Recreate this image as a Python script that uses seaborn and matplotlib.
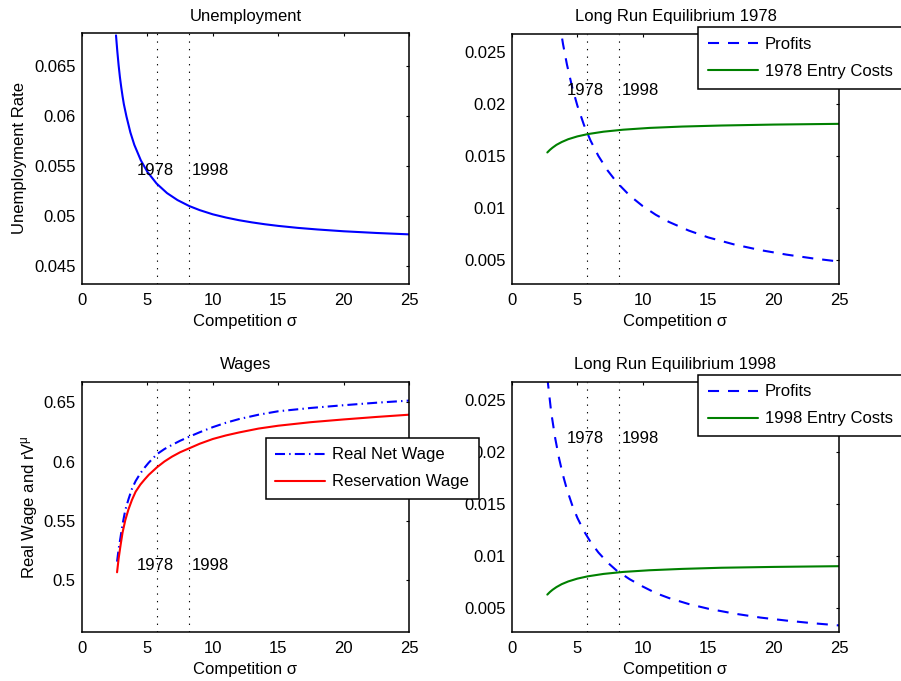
import matplotlib
matplotlib.use("Agg")
import matplotlib.pyplot as plt
from matplotlib.ticker import FuncFormatter
import pandas as pd
import seaborn as sns

# Competition levels marked for the two years
sigma_1978 = 5.7
sigma_1998 = 8.2

# Unemployment rate against competition
u_sigma = [2.6, 2.7, 2.8, 2.9, 3.0, 3.1, 3.2, 3.4, 3.7, 4.0, 4.5, 5.0, 5.7, 6.5,
           7.3, 8.2, 9.0, 10.0, 11.0, 12.0, 13.0, 14.0, 15.0, 16.5, 18.0, 20.0,
           22.5, 25.0]
u_rate = [0.0681, 0.0665, 0.0651, 0.0639, 0.0629, 0.0620, 0.0612, 0.05996, 0.05836,
          0.05712, 0.05556, 0.05441, 0.05324, 0.05228, 0.05158, 0.05098, 0.05057,
          0.05015, 0.04983, 0.04956, 0.04934, 0.04915, 0.04899, 0.04879, 0.04863,
          0.04845, 0.04828, 0.04814]

# Wages
w_sigma = [2.68, 2.8, 2.93, 3.1, 3.31, 3.55, 3.82, 4.1, 4.46, 4.8, 5.1, 5.73, 6.3,
           6.88, 7.5, 8.21, 9.0, 10.0, 11.0, 12.0, 13.5, 15.0, 17.5, 20.0, 22.5, 25.0]
real_net_wage = [0.5155, 0.5260, 0.5350, 0.5470, 0.5590, 0.5680, 0.5770, 0.5835,
                 0.5900, 0.5950, 0.5990, 0.6062, 0.6105, 0.6140, 0.6175, 0.6210,
                 0.6247, 0.6290, 0.6327, 0.6358, 0.6395, 0.6424, 0.6452, 0.6475,
                 0.6496, 0.6514]
reservation_wage = [0.5065, 0.5180, 0.5280, 0.5400, 0.5505, 0.5595, 0.5676, 0.5745,
                    0.5805, 0.5850, 0.5887, 0.5951, 0.6000, 0.6041, 0.6078, 0.6112,
                    0.6150, 0.6190, 0.6220, 0.6245, 0.6278, 0.6302, 0.6332, 0.6355,
                    0.6376, 0.6395]

# Profits against competition (shared grid for both years)
p_sigma = [2.7, 3.0, 3.3, 3.6, 3.9, 4.2, 4.6, 5.0, 5.5, 6.0, 6.6, 7.3, 8.0, 9.0,
           10.0, 11.0, 12.0, 13.5, 15.0, 17.0, 19.0, 21.0, 23.0, 25.0]
profits_1978 = [0.0389, 0.0344, 0.0309, 0.02806, 0.02572, 0.02376, 0.02159, 0.01981,
                0.01798, 0.01649, 0.01502, 0.01363, 0.0125, 0.01121, 0.0102, 0.00937,
                0.00869, 0.00787, 0.00721, 0.00653, 0.00599, 0.00556, 0.0052, 0.0049]
profits_1998 = [0.0271, 0.02375, 0.02132, 0.01936, 0.01775, 0.01639, 0.0149, 0.01367,
                0.01241, 0.01138, 0.01037, 0.00941, 0.00863, 0.0078, 0.0071, 0.00647,
                0.006, 0.00543, 0.00498, 0.00451, 0.00413, 0.00384, 0.00359, 0.00338]

# Entry costs against competition
e_sigma = [2.7, 2.9, 3.1, 3.4, 3.8, 4.3, 5.0, 5.8, 7.0, 8.5, 10.5, 13.0, 16.0,
           20.0, 25.0]
entry_1978 = [0.01534, 0.01559, 0.0158, 0.01607, 0.01634, 0.01661, 0.01688, 0.0171,
              0.01733, 0.01752, 0.01769, 0.01782, 0.01792, 0.01801, 0.01808]
entry_1998 = [0.00633, 0.00658, 0.00679, 0.00705, 0.00733, 0.00759, 0.00786, 0.00808,
              0.00831, 0.0085, 0.00866, 0.00879, 0.0089, 0.00898, 0.00905]

x_ticks = [0, 5, 10, 15, 20, 25]
u_ticks = [0.045, 0.05, 0.055, 0.06, 0.065]
w_ticks = [0.5, 0.55, 0.6, 0.65]
p_ticks = [0.005, 0.01, 0.015, 0.02, 0.025]

FS = 12

sns.set_theme(style="white")
plt.rcParams.update({
    "font.family": ["Liberation Sans", "DejaVu Sans"],
    "mathtext.fontset": "custom",
    "mathtext.rm": "Liberation Sans",
    "mathtext.it": "Liberation Sans:italic",
    "font.size": FS,
    "text.color": "black",
    "axes.labelcolor": "black",
})

BLUE = "#0000ff"
RED = "#ff0000"
GREEN = "#008000"
DASH = (0, (5.3, 4.3))
DASHDOT = (0, (4.8, 2.0, 0.7, 2.0))
DOT = (0, (1.2, 5.6))

W, H = 901, 681
fig = plt.figure(figsize=(W / 100, H / 100), dpi=100)


def add_axes(left, top, right, bottom):
    return fig.add_axes([left / W, 1 - bottom / H, (right - left) / W, (bottom - top) / H])


ax_u = add_axes(82, 33, 409, 284)
ax_p78 = add_axes(512, 34, 839, 284)
ax_w = add_axes(82, 382, 409, 632)
ax_p98 = add_axes(512, 382, 839, 632)
# the wage legend spills over the neighbouring panel, so keep that axes on top
ax_w.set_zorder(ax_p98.get_zorder() + 1)

fmt = FuncFormatter(lambda v, p: f"{v:g}")


def style(ax, ylim, yticks, text_y):
    ax.set_xlim(0, 25)
    ax.set_ylim(*ylim)
    ax.set_xticks(x_ticks)
    ax.set_yticks(yticks)
    ax.xaxis.set_major_formatter(fmt)
    ax.yaxis.set_major_formatter(fmt)
    ax.tick_params(direction="in", length=2.5, width=0.8, top=True, right=True,
                   labelsize=FS, pad=4.5, colors="black")
    ax.tick_params(axis="x", pad=6.5)
    for s in ax.spines.values():
        s.set_visible(True)
        s.set_linewidth(1.1)
        s.set_color("black")
    ax.set_xlabel("Competition σ", fontsize=FS, labelpad=4)
    ax.axvline(sigma_1978, color="black", lw=0.8, ls=DOT, zorder=1)
    ax.axvline(sigma_1998, color="black", lw=0.8, ls=DOT, zorder=1)
    ax.text(4.2, text_y, "1978", fontsize=FS, va="center", ha="left")
    ax.text(8.4, text_y, "1998", fontsize=FS, va="center", ha="left")


def legend(ax, handles, labels, left, top):
    leg = ax.legend(handles, labels, loc="upper left",
                    bbox_to_anchor=(left / W, 1 - top / H),
                    bbox_transform=fig.transFigure, borderaxespad=0,
                    fontsize=FS, frameon=True, fancybox=False, shadow=False,
                    framealpha=1, edgecolor="black", handlelength=3.0,
                    handletextpad=0.4, labelspacing=0.72, borderpad=0.58)
    leg.get_frame().set_linewidth(1.1)
    return leg


# Unemployment
df_u = pd.DataFrame({"sigma": u_sigma, "rate": u_rate})
sns.lineplot(data=df_u, x="sigma", y="rate", ax=ax_u, color=BLUE, lw=1.5)
style(ax_u, (0.04316, 0.06834), u_ticks, 0.0545)
ax_u.set_title("Unemployment", fontsize=FS, pad=9)
ax_u.set_ylabel("Unemployment Rate", fontsize=FS, labelpad=5)

# Wages
df_w = pd.DataFrame({"sigma": w_sigma, "net": real_net_wage, "res": reservation_wage})
sns.lineplot(data=df_w, x="sigma", y="net", ax=ax_w, color=BLUE, lw=1.5, ls=DASHDOT)
sns.lineplot(data=df_w, x="sigma", y="res", ax=ax_w, color=RED, lw=1.5)
style(ax_w, (0.4561, 0.6671), w_ticks, 0.512)
ax_w.set_title("Wages", fontsize=FS, pad=9)
ax_w.set_ylabel("Real Wage and rV$^{\\mathrm{μ}}$", fontsize=FS, labelpad=2.5)
w_lines = ax_w.get_lines()
legend(ax_w, [w_lines[0], w_lines[1]], ["Real Net Wage", "Reservation Wage"], 265.7, 437.7)

# Long-run equilibria
for ax, pv, ev, year in [(ax_p78, profits_1978, entry_1978, "1978"),
                         (ax_p98, profits_1998, entry_1998, "1998")]:
    df_p = pd.DataFrame({"sigma": p_sigma, "profits": pv})
    df_e = pd.DataFrame({"sigma": e_sigma, "entry": ev})
    sns.lineplot(data=df_p, x="sigma", y="profits", ax=ax, color=BLUE, lw=1.5, ls=DASH)
    sns.lineplot(data=df_e, x="sigma", y="entry", ax=ax, color=GREEN, lw=1.5)
    style(ax, (0.00275, 0.02668), p_ticks, 0.0213)
    ax.set_title(f"Long Run Equilibrium {year}", fontsize=FS, pad=9)
    ax.set_ylabel("")
    lines = ax.get_lines()
    top = 27.3 if year == "1978" else 374.7
    legend(ax, [lines[0], lines[1]], ["Profits", f"{year} Entry Costs"], 698.3, top)

fig.savefig("out.png", dpi=100, facecolor="white")
